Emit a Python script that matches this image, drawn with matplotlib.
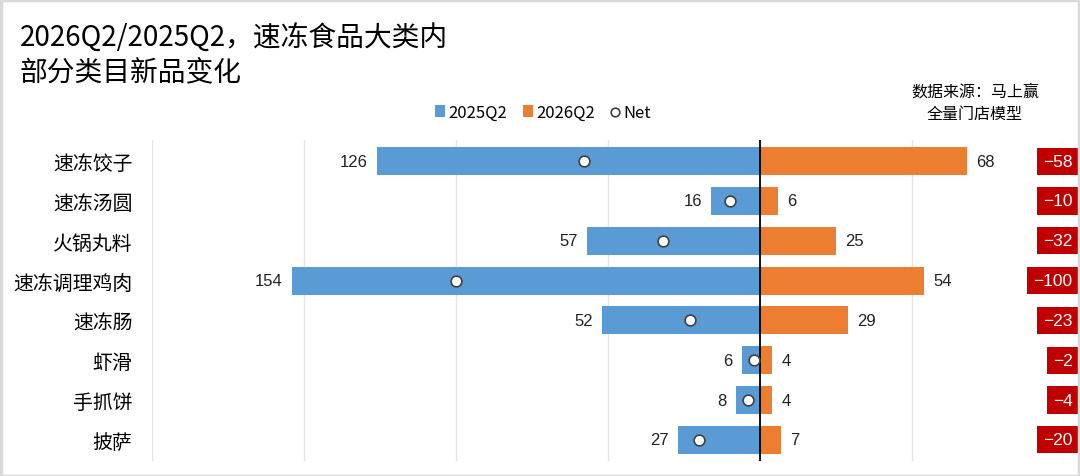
import matplotlib
matplotlib.use("Agg")
import matplotlib.pyplot as plt
import numpy as np

plt.rcParams['font.family'] = ['Noto Sans CJK SC', 'DejaVu Sans']
plt.rcParams['axes.unicode_minus'] = False

categories = ["速冻饺子", "速冻汤圆", "火锅丸料", "速冻调理鸡肉", "速冻肠", "虾滑", "手抓饼", "披萨"]
q2025 = [126, 16, 57, 154, 52, 6, 8, 27]
q2026 = [68, 6, 25, 54, 29, 4, 4, 7]
net = [b - a for a, b in zip(q2025, q2026)]

blue = "#5B9BD5"
orange = "#ED7D31"
red = "#C00000"

fig = plt.figure(figsize=(10.8, 4.77), dpi=100)
fig.patches.append(plt.Rectangle((0.001, 0.001), 0.998, 0.997, transform=fig.transFigure,
                                 fill=False, edgecolor="#D9D9D9", linewidth=2.5))
ax = fig.add_axes([152/1080, 1 - 462/477, (1064-152)/1080, (462-141)/477])

y = np.arange(len(categories))
ax.barh(y, [-v for v in q2025], height=0.7, color=blue, label="2025Q2", zorder=2)
ax.barh(y, q2026, height=0.7, color=orange, label="2026Q2", zorder=2)
ax.scatter(net, y, s=60, facecolor="white", edgecolor="#404040", linewidth=1.2, zorder=4, label="Net")

for i in range(len(categories)):
    ax.text(-q2025[i] - 3, y[i], str(q2025[i]), ha="right", va="center", fontsize=12, color="#222222",
            family="Liberation Sans")
    ax.text(q2026[i] + 3, y[i], str(q2026[i]), ha="left", va="center", fontsize=12, color="#222222",
            family="Liberation Sans")
    ax.text(102.8, y[i], "\u2212" + str(-net[i]) if net[i] < 0 else str(net[i]),
            ha="right", va="center", fontsize=12.5, color="white", family="Liberation Sans",
            bbox=dict(boxstyle="square,pad=0.35", facecolor=red, edgecolor="none"), clip_on=False)

ax.set_xlim(-200, 100)
ax.set_ylim(len(categories) - 0.47, -0.53)
ax.set_xticks([-200, -150, -100, -50, 0, 50, 100])
ax.set_xticklabels([])
ax.tick_params(axis="x", length=0)
ax.grid(axis="x", color="#E6E6E6", linewidth=1, zorder=0)
ax.axvline(0, color="black", linewidth=1.3, zorder=3)
ax.set_yticks(y)
ax.set_yticklabels(categories, fontsize=14.3)
ax.tick_params(axis="y", length=0, pad=14)
for s in ax.spines.values():
    s.set_visible(False)

fig.text(20/1080, 1 - 39/477, "2026Q2/2025Q2，速冻食品大类内", fontsize=20, va="center", ha="left")
fig.text(20/1080, 1 - 73/477, "部分类目新品变化", fontsize=20, va="center", ha="left")
fig.text(975/1080, 1 - 92/477, "数据来源：马上赢", fontsize=11.5, va="center", ha="center")
fig.text(975/1080, 1 - 114/477, "全量门店模型", fontsize=11.5, va="center", ha="center")

h, l = ax.get_legend_handles_labels()
order = [l.index("2025Q2"), l.index("2026Q2"), l.index("Net")]
leg = fig.legend([h[k] for k in order], [l[k] for k in order], loc="center",
                 bbox_to_anchor=(543/1080, 1 - 113/477), ncol=3, frameon=False,
                 fontsize=12, handlelength=0.6, handletextpad=0.2, columnspacing=0.9, markerscale=0.8)

fig.savefig("out.png", dpi=100)
